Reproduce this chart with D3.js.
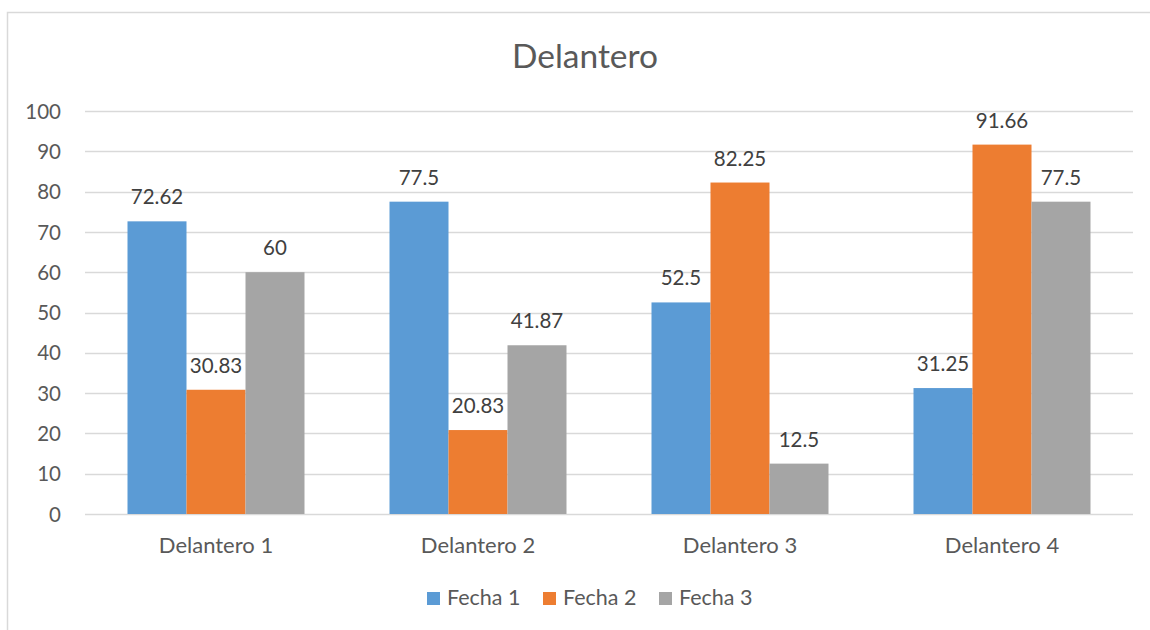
<!DOCTYPE html>
<html><head><meta charset="utf-8">
<script src="https://cdn.jsdelivr.net/npm/d3@7"></script>
<style>body{margin:0;background:#fff;}svg{display:block;font-family:Lato,"Open Sans",sans-serif;}</style>
</head><body>
<script>
const categories = ["Delantero 1","Delantero 2","Delantero 3","Delantero 4"];
const seriesNames = ["Fecha 1","Fecha 2","Fecha 3"];
const fecha1 = [72.62, 77.5, 52.5, 31.25];
const fecha2 = [30.83, 20.83, 82.25, 91.66];
const fecha3 = [60, 41.87, 12.5, 77.5];
const yTicks = [0,10,20,30,40,50,60,70,80,90,100];
const colors = ["#5b9bd5","#ed7d31","#a5a5a5"];
const seriesValues = [fecha1, fecha2, fecha3];

(function(){
const W = 1150, H = 630;
const svg = d3.select("body").append("svg").attr("width", W).attr("height", H);
svg.append("rect").attr("x",7.5).attr("y",12.5).attr("width",1200).attr("height",700)
  .attr("fill","#fff").attr("stroke","#d9d9d9").attr("stroke-width",1.5);

const pL = 85, pR = 1133, pT = 111, pB = 514;
const x0 = d3.scaleBand().domain(categories).range([pL, pR]).paddingInner(0).paddingOuter(0);
const inner = 177;
const x1 = d3.scaleBand().domain(seriesNames).range([0, inner]);
const y = d3.scaleLinear().domain([0,100]).range([pB, pT]);

svg.append("g").selectAll("line").data(yTicks).join("line")
  .attr("x1", pL).attr("x2", pR)
  .attr("y1", d => Math.round(y(d))+0.5).attr("y2", d => Math.round(y(d))+0.5)
  .attr("stroke", "#d9d9d9").attr("stroke-width", 1.3);

const yAxis = d3.axisLeft(y).tickValues(yTicks).tickSize(0).tickPadding(0);
const ya = svg.append("g").attr("transform", `translate(61,0)`).call(yAxis);
ya.select(".domain").remove();
ya.selectAll("text").attr("fill","#595959").style("font-size","20.5px").style("font-family","Lato").attr("dy","0.35em");

const xAxis = d3.axisBottom(x0).tickSize(0).tickPadding(0);
const xa = svg.append("g").attr("transform", `translate(0,${pB})`).call(xAxis);
xa.select(".domain").remove();
xa.selectAll("text").attr("fill","#595959").style("font-size","22px").style("font-family","Lato").attr("dy","0").attr("y",39);

const groups = svg.append("g").selectAll("g").data(categories).join("g")
  .attr("transform", c => `translate(${x0(c) + (x0.bandwidth()-inner)/2},0)`);
groups.each(function(c, ci) {
  const g = d3.select(this);
  seriesNames.forEach((s, si) => {
    const v = seriesValues[si][ci];
    g.append("rect").attr("x", x1(s)).attr("width", x1.bandwidth())
      .attr("y", y(v)).attr("height", y(0) - y(v)).attr("fill", colors[si]);
    g.append("text").attr("x", x1(s) + x1.bandwidth()/2).attr("y", y(v) - 17)
      .attr("text-anchor","middle").attr("fill","#404040").style("font-size","20.5px")
      .text(v);
  });
});

svg.append("text").attr("x", 585).attr("y", 68).attr("text-anchor","middle")
  .attr("fill","#595959").style("font-size","33.5px").text("Delantero");

const legendX = [427, 543, 659];
const lg = svg.append("g").selectAll("g").data(seriesNames).join("g")
  .attr("transform", (d,i) => `translate(${legendX[i]},592)`);
lg.append("rect").attr("width",13).attr("height",13).attr("fill",(d,i)=>colors[i]);
lg.append("text").attr("x",20).attr("y",13).attr("fill","#595959").style("font-size","21.5px").text(d=>d);
})();
</script>
</body></html>
